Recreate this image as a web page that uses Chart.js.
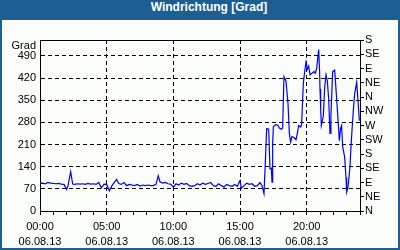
<!DOCTYPE html>
<html><head><meta charset="utf-8">
<script src="https://cdn.jsdelivr.net/npm/chart.js@4"></script>
<style>
html,body{margin:0;padding:0;background:#fff;}
#frame{position:relative;width:400px;height:250px;background:#1d5f94;overflow:hidden;}
#title{position:absolute;left:0;top:0;width:400px;height:20px;line-height:20px;text-align:center;color:#fff;font:bold 12px "Liberation Sans",Arial,sans-serif;padding-left:18px;box-sizing:border-box;}
#plot{position:absolute;left:2px;top:20px;width:396px;height:228px;background:#fafdfa;}
</style></head>
<body><div id="frame"><div id="title">Windrichtung [Grad]</div><div id="plot"><canvas id="c" width="396" height="228"></canvas></div></div>
<script>
const dateLabel = '06.08.13';
const leftTicks = [0, 70, 140, 210, 280, 350, 420, 490];
const compassTicks = [0, 45, 90, 135, 180, 225, 270, 315, 360, 405, 450, 495, 540];
const compassLabels = ['N','NE','E','SE','S','SW','W','NW','N','NE','E','SE','S'];
const unitLabel = 'Grad';

const hours = [
 0,0.2,0.4,0.6,0.8,1.0,1.2,1.4,1.6,1.8,
 2.0,2.1,2.3,2.45,2.6,2.8,3.0,3.2,3.4,3.6,
 3.8,4.0,4.2,4.4,4.6,4.8,5.0,5.2,5.4,5.6,
 5.75,5.9,6.1,6.3,6.5,6.7,6.9,7.1,7.3,7.5,
 7.7,7.9,8.1,8.3,8.5,8.7,8.87,9.0,9.2,9.4,
 9.6,9.8,10.0,10.2,10.4,10.6,10.8,11.0,11.2,11.4,
 11.6,11.8,12.0,12.2,12.4,12.6,12.8,13.0,13.2,13.4,
 13.6,13.8,14.0,14.2,14.4,14.6,14.8,14.9,15.0,15.1,
 15.3,15.5,15.7,15.9,16.1,16.3,16.5,16.65,16.8,16.9,
 17.0,17.15,17.25,17.35,17.4,17.45,17.5,17.7,17.85,17.95,
 18.1,18.2,18.25,18.3,18.45,18.6,18.7,18.8,18.9,19.05,
 19.2,19.3,19.4,19.55,19.62,19.75,19.85,19.95,20.05,20.15,
 20.25,20.4,20.55,20.65,20.75,20.9,20.97,21.0,21.05,21.1,
 21.25,21.35,21.45,21.55,21.65,21.75,21.82,21.95,22.1,22.2,
 22.35,22.45,22.55,22.62,22.7,22.85,22.95,23.0,23.1,23.25,
 23.35,23.5,23.6,23.75,23.85,23.95
];
const direction = [
 87,88,86,90,88,87,86,87,85,84,
 68,80,124,85,84,86,85,86,84,87,
 85,86,84,90,73,85,84,64,80,92,
 100,87,84,90,80,84,82,80,84,79,
 82,80,82,80,80,84,111,92,88,90,
 86,85,75,86,82,88,84,87,80,78,
 80,86,82,88,84,87,90,80,78,86,
 80,76,84,80,78,84,78,88,96,72,
 80,88,84,86,78,80,90,80,55,155,
 260,258,133,135,91,213,266,273,270,262,
 258,262,350,424,410,340,245,218,235,232,
 225,245,270,265,273,403,440,470,448,458,
 430,435,440,435,450,510,440,385,324,270,
 300,390,430,410,355,245,300,440,445,385,
 290,222,262,270,203,170,106,60,75,140,
 222,318,370,407,350,285
];

const points = hours.map((h, i) => ({x: h, y: direction[i]}));

Chart.defaults.font.family = '"Liberation Sans", Arial, sans-serif';
Chart.defaults.font.size = 11;
Chart.defaults.color = '#000';

const frameLines = {
  id: 'frameLines',
  afterDraw(chart) {
    const ctx = chart.ctx, a = chart.chartArea;
    ctx.save();
    ctx.strokeStyle = '#000';
    ctx.lineWidth = 1;
    ctx.beginPath();
    ctx.moveTo(a.left, Math.round(a.top) + 0.5);
    ctx.lineTo(a.right, Math.round(a.top) + 0.5);
    ctx.stroke();
    ctx.fillStyle = '#000';
    ctx.font = '11px "Liberation Sans", Arial, sans-serif';
    ctx.textAlign = 'right';
    ctx.textBaseline = 'middle';
    ctx.fillText(unitLabel, a.left - 4, a.top + 6);
    ctx.restore();
  }
};

new Chart(document.getElementById('c'), {
  type: 'line',
  data: { datasets: [{
    data: points,
    borderColor: '#0000ff',
    borderWidth: 1.2,
    pointRadius: 0,
    tension: 0,
    fill: false,
    yAxisID: 'y'
  }]},
  options: {
    responsive: false,
    animation: false,
    devicePixelRatio: 1,
    layout: { padding: { top: 20, left: 0, right: 0, bottom: 0 } },
    plugins: { legend: { display: false }, title: { display: false }, tooltip: { enabled: false } },
    scales: {
      x: {
        type: 'linear', min: 0, max: 24,
        afterFit(s) { s.height = 37; },
        ticks: {
          stepSize: 1, autoSkip: false, maxRotation: 0, padding: 5,
          font: { size: 11, lineHeight: 1.35 },
          callback(v) { return v % 5 === 0 ? [String(v).padStart(2, '0') + ':00', dateLabel] : ''; }
        },
        grid: {
          color: c => (c.tick && c.tick.value % 5 === 0 && c.tick.value > 0 && c.tick.value < 24) ? '#000' : 'rgba(0,0,0,0)',
          tickColor: '#000', tickLength: 4, tickBorderDash: [], lineWidth: 1
        },
        border: { display: true, color: '#000', width: 1, dash: [4, 3] }
      },
      y: {
        position: 'left', min: 0, max: 540,
        afterFit(s) { s.width = 38; },
        afterBuildTicks(s) { s.ticks = leftTicks.map(v => ({ value: v })); },
        ticks: { padding: 4, autoSkip: false },
        grid: {
          drawTicks: false,
          color: c => (c.tick && c.tick.value > 0) ? '#000' : 'rgba(0,0,0,0)'
        },
        border: { display: true, color: '#000', width: 1, dash: [4, 3] }
      },
      y2: {
        position: 'right', min: 0, max: 540,
        afterFit(s) { s.width = 38; },
        afterBuildTicks(s) { s.ticks = compassTicks.map(v => ({ value: v })); },
        ticks: { padding: 1, autoSkip: false, callback(v, i) { return compassLabels[i]; } },
        grid: { drawOnChartArea: false, tickLength: 4, tickColor: '#000' },
        border: { display: true, color: '#000', width: 1 }
      }
    }
  },
  plugins: [frameLines]
});
</script>
</body></html>
